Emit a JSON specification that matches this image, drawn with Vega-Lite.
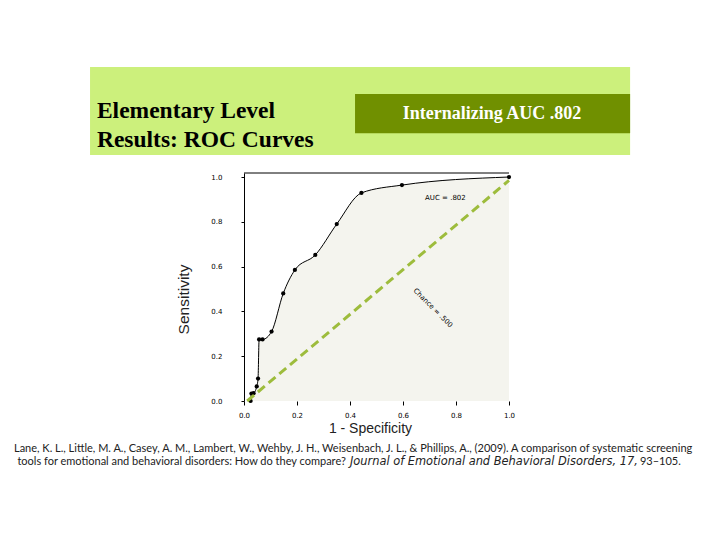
{
"$schema": "https://vega.github.io/schema/vega-lite/v6.json",
"width": 265, "height": 228,
"autosize": {"type": "none"},
"padding": {"left": 244, "top": 173, "right": 211, "bottom": 139},
"background": "white",
"config": {"view": {"stroke": null}, "axis": {"grid": false, "labelFlush": false}},
"layer": [
  {
    "data": {"values": [{}]},
    "mark": {"type": "rect", "color": "#ccf07c"},
    "encoding": {
      "x": {"datum": -0.581}, "x2": {"datum": 1.457},
      "y": {"datum": 1.491}, "y2": {"datum": 1.098}
    }
  },
  {
    "data": {"values": [{}]},
    "mark": {"type": "rect", "color": "#709000"},
    "encoding": {
      "x": {"datum": 0.419}, "x2": {"datum": 1.457},
      "y": {"datum": 1.371}, "y2": {"datum": 1.196}
    }
  },
  {
    "data": {"values": [{}]},
    "mark": {"type": "text", "align": "left", "baseline": "alphabetic", "font": "Liberation Serif",
             "fontWeight": "bold", "fontSize": 23.5, "lineHeight": 29, "color": "black",
             "text": ["Elementary Level", "Results: ROC Curves"]},
    "encoding": {"x": {"datum": -0.555}, "y": {"datum": 1.262}}
  },
  {
    "data": {"values": [{}]},
    "mark": {"type": "text", "align": "center", "baseline": "middle", "font": "Liberation Serif",
             "fontWeight": "bold", "fontSize": 18, "color": "white",
             "text": "Internalizing AUC .802"},
    "encoding": {"x": {"datum": 0.936}, "y": {"datum": 1.281}}
  },
  {
    "data": {"values": [
      {"fpr": 0.025, "tpr": 0.0},
      {"fpr": 0.028, "tpr": 0.033},
      {"fpr": 0.036, "tpr": 0.035},
      {"fpr": 0.048, "tpr": 0.065},
      {"fpr": 0.053, "tpr": 0.10},
      {"fpr": 0.057, "tpr": 0.275},
      {"fpr": 0.070, "tpr": 0.275},
      {"fpr": 0.104, "tpr": 0.31},
      {"fpr": 0.148, "tpr": 0.48},
      {"fpr": 0.192, "tpr": 0.585},
      {"fpr": 0.269, "tpr": 0.652},
      {"fpr": 0.350, "tpr": 0.79},
      {"fpr": 0.443, "tpr": 0.929},
      {"fpr": 0.596, "tpr": 0.964},
      {"fpr": 1.0, "tpr": 1.0}
    ]},
    "encoding": {
      "x": {"field": "fpr", "type": "quantitative",
            "scale": {"domain": [0, 1], "nice": false, "zero": false},
            "axis": {"values": [0, 0.2, 0.4, 0.6, 0.8, 1.0], "format": ".1f", "domain": false,
                     "tickSize": 4, "tickColor": "black", "labelPadding": 6,
                     "labelFont": "DejaVu Sans", "labelFontSize": 7, "labelColor": "black",
                     "title": "1 - Specificity", "titleFont": "Liberation Sans", "titleFontSize": 14,
                     "titleFontWeight": "normal", "titleColor": "#222", "titleX": 126, "titleY": 27,
                     "titleBaseline": "middle"}},
      "y": {"field": "tpr", "type": "quantitative",
            "scale": {"domain": [0, 1.018], "nice": false, "zero": false},
            "axis": {"values": [0, 0.2, 0.4, 0.6, 0.8, 1.0], "format": ".1f", "domainColor": "black",
                     "tickSize": 3, "tickColor": "black", "labelPadding": 19,
                     "labelFont": "DejaVu Sans", "labelFontSize": 7, "labelColor": "black",
                     "title": "Sensitivity", "titleFont": "Liberation Sans", "titleFontSize": 15.5,
                     "titleFontWeight": "normal", "titleColor": "#222", "titleX": -61, "titleY": 126,
                     "titleBaseline": "middle", "titleAngle": 270}}
    },
    "layer": [
      {"mark": {"type": "area", "interpolate": "monotone", "color": "#f4f4ee"}},
      {"mark": {"type": "line", "interpolate": "monotone", "color": "black", "strokeWidth": 1}},
      {"mark": {"type": "circle", "color": "black", "opacity": 1, "size": 18}}
    ]
  },
  {
    "data": {"values": [{}]},
    "mark": {"type": "rule", "color": "black", "strokeWidth": 1},
    "encoding": {"x": {"datum": 0}, "x2": {"datum": 1.0}, "y": {"datum": 1.018}}
  },
  {
    "data": {"values": [{}]},
    "mark": {"type": "rule", "color": "#9dbc3c", "strokeWidth": 3, "strokeDash": [9, 5]},
    "encoding": {"x": {"datum": 0.012}, "x2": {"datum": 1.0}, "y": {"datum": 0}, "y2": {"datum": 0.985}}
  },
  {
    "data": {"values": [{}]},
    "mark": {"type": "text", "font": "DejaVu Sans", "fontSize": 7, "color": "black", "text": "AUC = .802"},
    "encoding": {"x": {"datum": 0.76}, "y": {"datum": 0.906}}
  },
  {
    "data": {"values": [{}]},
    "mark": {"type": "text", "font": "DejaVu Sans", "fontSize": 7, "color": "black", "angle": 45,
             "text": "Chance = .500"},
    "encoding": {"x": {"datum": 0.713}, "y": {"datum": 0.415}}
  },
  {
    "data": {"values": [{}]},
    "mark": {"type": "text", "align": "left", "baseline": "alphabetic", "font": "Lato", "fontSize": 11,
             "color": "#222",
             "text": "Lane, K. L., Little, M. A., Casey, A. M., Lambert, W., Wehby, J. H., Weisenbach, J. L., & Phillips, A., (2009). A comparison of systematic screening"},
    "encoding": {"x": {"datum": -0.868}, "y": {"datum": -0.228}}
  },
  {
    "data": {"values": [{}]},
    "mark": {"type": "text", "align": "left", "baseline": "alphabetic", "font": "Lato", "fontSize": 11,
             "color": "#222",
             "text": "tools for emotional and behavioral disorders: How do they compare?"},
    "encoding": {"x": {"datum": -0.855}, "y": {"datum": -0.286}}
  },
  {
    "data": {"values": [{}]},
    "mark": {"type": "text", "align": "left", "baseline": "alphabetic", "font": "DejaVu Sans", "fontSize": 11.4,
             "fontStyle": "italic", "color": "#222",
             "text": "Journal of Emotional and Behavioral Disorders, 17,"},
    "encoding": {"x": {"datum": 0.4}, "y": {"datum": -0.286}}
  },
  {
    "data": {"values": [{}]},
    "mark": {"type": "text", "align": "left", "baseline": "alphabetic", "font": "Lato", "fontSize": 11,
             "color": "#222", "text": "93–105."},
    "encoding": {"x": {"datum": 1.494}, "y": {"datum": -0.286}}
  }
]
}
